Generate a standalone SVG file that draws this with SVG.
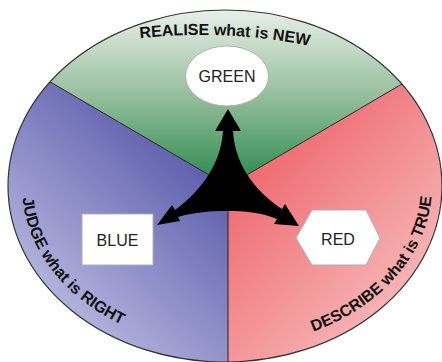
<svg xmlns="http://www.w3.org/2000/svg" width="442" height="362" viewBox="0 0 442 362">
  <defs>
    <clipPath id="disc">
      <ellipse cx="225" cy="186" rx="217" ry="176"/>
    </clipPath>
    <linearGradient id="gGreen" gradientUnits="userSpaceOnUse" x1="0" y1="10" x2="0" y2="186">
      <stop offset="0" stop-color="#e8efe8"/>
      <stop offset="0.5" stop-color="#93bd9b"/>
      <stop offset="1" stop-color="#27884a"/>
    </linearGradient>
    <linearGradient id="gBlue" gradientUnits="userSpaceOnUse" x1="215" y1="150" x2="30" y2="345">
      <stop offset="0" stop-color="#5656a8"/>
      <stop offset="1" stop-color="#c8c8ea"/>
    </linearGradient>
    <linearGradient id="gRed" gradientUnits="userSpaceOnUse" x1="240" y1="160" x2="430" y2="335">
      <stop offset="0" stop-color="#ee666c"/>
      <stop offset="1" stop-color="#f9c6c6"/>
    </linearGradient>
    <!-- baselines for the rim captions -->
    <path id="arcTop" d="M130,39.4 A560,560 0 0 1 360,58.3"/>
    <path id="arcLeft" d="M22,186 A203,161 0 0 0 225,347"/>
    <path id="arcRight" d="M225,347 A207,161 0 0 0 432,186"/>
  </defs>
  <style>
    .divider { stroke: #222; stroke-width: 1; fill: none; }
    .rim { fill: none; stroke: #333; stroke-width: 1.2; }
    .node { fill: #fff; stroke: #b0b0b0; stroke-width: 1; }
    .label { font-family: "Liberation Sans", Arial, sans-serif; font-size: 16px; fill: #222; text-anchor: middle; }
    .rimtext { font-family: "Liberation Sans", Arial, sans-serif; font-size: 16px; font-weight: bold; fill: #111; }
  </style>

  <!-- three sectors of the disc -->
  <g id="sectors" clip-path="url(#disc)">
    <polygon points="228,186 -124,-20 -124,-50 580,-50 576,-18" fill="url(#gGreen)"/>
    <polygon points="228,186 -124,-20 -124,400 228,400" fill="url(#gBlue)"/>
    <polygon points="228,186 228,400 580,400 576,-18" fill="url(#gRed)"/>
    <path class="divider" d="M228,186 L-124,-20 M228,186 L576,-18 M228,186 L228,400"/>
  </g>
  <ellipse class="rim" cx="225" cy="186" rx="217" ry="176"/>

  <!-- rim captions -->
  <text class="rimtext"><textPath href="#arcTop" startOffset="10">REALISE what is NEW</textPath></text>
  <text class="rimtext"><textPath href="#arcLeft" startOffset="12">JUDGE what </textPath></text>
  <text class="rimtext"><textPath href="#arcLeft" startOffset="112.5">is RIGHT</textPath></text>
  <text class="rimtext"><textPath href="#arcRight" startOffset="90">DESCRIBE </textPath></text>
  <text class="rimtext"><textPath href="#arcRight" startOffset="177.1">what is TRUE</textPath></text>

  <!-- three-way arrow -->
  <g id="connectors">
    <path fill="#000" d="M228,109 L241,131 L233,131 C235,170 262,196 282,209 L285,204 L299,226 L274,224 L277,219 C260,212 245,211 228,211 C211,211 195,212 178,217 L180,221 L157,225 L172,205 L175,210 C192,198 221,170 223,131 L215,131 Z"/>
  </g>

  <g id="green">
    <ellipse class="node" cx="227" cy="76" rx="41.5" ry="30"/>
    <text class="label" x="227" y="82">GREEN</text>
  </g>
  <g id="blue">
    <rect class="node" x="82" y="214" width="71" height="51"/>
    <text class="label" x="117.5" y="246">BLUE</text>
  </g>
  <g id="red">
    <polygon class="node" points="296,238 312,210 366,210 380,238 366,265 312,265"/>
    <text class="label" x="338" y="245">RED</text>
  </g>
</svg>
